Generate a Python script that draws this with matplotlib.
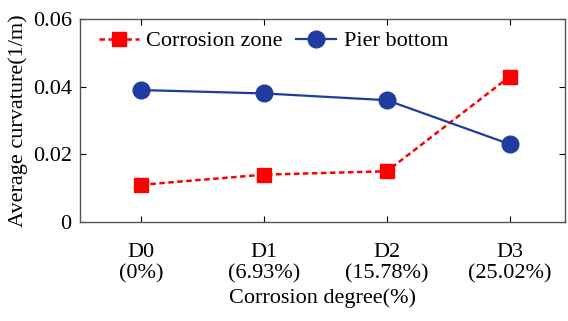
import numpy as np
import matplotlib.pyplot as plt

plt.rcParams['font.family'] = ['Liberation Serif', 'DejaVu Serif']
plt.rcParams['mathtext.fontset'] = 'stix'

labels = ['D0\n(0%)', 'D1\n(6.93%)', 'D2\n(15.78%)', 'D3\n(25.02%)']
corrosion_zone = [0.011, 0.014, 0.015, 0.043]
pier_bottom = [0.039, 0.038, 0.036, 0.023]

x = np.arange(len(labels))

fig = plt.figure(figsize=(5.68, 3.21), dpi=100)
ax = fig.add_axes([80 / 568, 1 - 222 / 321, 485 / 568, 203 / 321])

ax.plot(x, corrosion_zone, color='#ff0000', linestyle=(0, (2.2, 1.4)), linewidth=1.8,
        marker='s', markersize=10, label='Corrosion zone')
ax.plot(x, pier_bottom, color='#1f3c9e', linestyle='-', linewidth=1.6,
        marker='o', markersize=12, markerfacecolor='#1f3c9e', label='Pier bottom')

ax.set_xlim(-0.5, 3.45)
ax.set_ylim(0, 0.06)
ax.set_xticks(x)
ax.set_xticklabels(labels, fontsize=16, linespacing=1.2)
ax.set_yticks([0, 0.02, 0.04, 0.06])
ax.set_yticklabels(['0', '0.02', '0.04', '0.06'], fontsize=16)
ax.tick_params(axis='x', direction='in', top=True, length=4, width=0.8, pad=15)
ax.tick_params(axis='y', direction='in', right=True, length=4, width=0.8, pad=6)

ax.set_xlabel('Corrosion degree(%)', fontsize=16, labelpad=3)
ax.set_ylabel('Average curvature(1/m)', fontsize=16, labelpad=3)

for s in ax.spines.values():
    s.set_color('#555555')
    s.set_linewidth(1.0)

ax.legend(loc='upper left', ncol=2, frameon=False, fontsize=16, handlelength=1.8,
          handletextpad=0.35, columnspacing=0.6, borderaxespad=0.0,
          bbox_to_anchor=(0.02, 0.985))

fig.savefig('out.png', dpi=100)
